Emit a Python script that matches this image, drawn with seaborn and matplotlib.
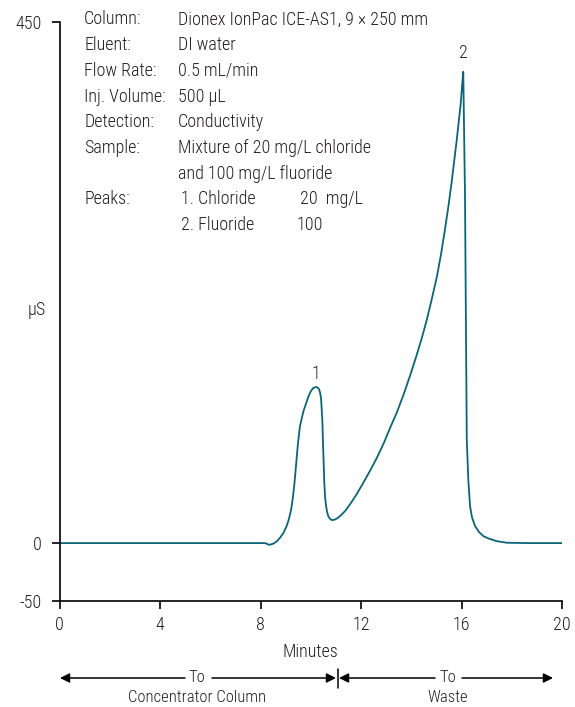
import matplotlib
matplotlib.use("Agg")
import matplotlib.pyplot as plt
from matplotlib import font_manager as fm
import seaborn as sns
import pandas as pd

# ---- data ----
time_min = [0.0, 2.0, 4.0, 6.0, 8.0, 8.18, 8.35, 8.51, 8.65, 8.78, 8.92, 9.04, 9.12, 9.22,
            9.28, 9.34, 9.41, 9.48, 9.57, 9.71, 9.91, 10.00, 10.10, 10.21, 10.27, 10.33,
            10.37, 10.41, 10.46, 10.48, 10.50, 10.54, 10.57, 10.61, 10.65, 10.70, 10.77,
            10.84, 10.97, 11.08, 11.20, 11.38, 11.56, 11.82, 12.09, 12.36, 12.63, 12.90,
            13.16, 13.43, 13.69, 13.96, 14.22, 14.42, 14.62, 14.82, 15.02, 15.19, 15.35,
            15.48, 15.61, 15.71, 15.81, 15.89, 15.97, 16.02, 16.07, 16.14, 16.21, 16.27,
            16.34, 16.42, 16.54, 16.70, 16.87, 17.10, 17.40, 17.80, 18.70, 20.0]
signal_uS = [0.0, 0.0, 0.0, 0.0, 0.0, 0.0, -1.5, -0.5, 1.5, 4.7, 9.0, 14.7, 20.0, 29.0,
             38.0, 49.0, 66.0, 83.6, 101.0, 114.0, 126.7, 131.0, 134.0, 134.8, 134.3, 133.0,
             130.0, 125.0, 106.6, 92.0, 78.0, 52.0, 40.0, 32.0, 27.0, 23.0, 21.0,
             19.8, 20.4, 21.8, 24.0, 28.0, 33.4, 42.0, 52.0, 62.5, 73.6, 86.0,
             99.5, 113.0, 128.0, 145.0, 162.7, 177.0, 193.0, 211.0, 230.0, 250.0, 272.0,
             291.0, 312.0, 330.0, 348.0, 364.0, 379.7, 394.0, 407.0, 299.0, 89.4, 55.0,
             31.9, 22.0, 14.7, 9.5, 6.0, 3.8, 1.7, 0.3, 0.0, 0.0]
peak_labels = ["1", "2"]
peak_times = [10.21, 16.07]
peak_values = [134.8, 407.0]
x_ticks = [0, 4, 8, 12, 16, 20]
y_ticks = [-50, 0, 450]

info_labels = ["Column:", "Eluent:", "Flow Rate:", "Inj. Volume:", "Detection:", "Sample:", "", "Peaks:", ""]
info_values = ["Dionex IonPac ICE-AS1, 9 \u00d7 250 mm", "DI water", "0.5 mL/min", "500 \u00b5L",
               "Conductivity", "Mixture of 20 mg/L chloride", "and 100 mg/L fluoride", "", ""]
peak_names = ["1. Chloride", "2. Fluoride"]
peak_conc = ["20  mg/L", "100"]

sns.set_theme(style="ticks")
avail = {f.name for f in fm.fontManager.ttflist}
family = "DejaVu Sans"
for cand in ["Liberation Sans Narrow", "Roboto Condensed", "Liberation Sans", "Roboto"]:
    if cand in avail:
        family = cand
        break
plt.rcParams["font.family"] = [family, "DejaVu Sans"]
plt.rcParams["font.weight"] = "light"
plt.rcParams["axes.labelweight"] = "light"

TXT = "#231f20"
LINE = "#0b6579"
W, H = 575, 707

fig = plt.figure(figsize=(W / 100, H / 100), dpi=100)
x0, x1, y0, y1 = 59.5, 562, 22, 601
ax = fig.add_axes([x0 / W, 1 - y1 / H, (x1 - x0) / W, (y1 - y0) / H])

df = pd.DataFrame({"Minutes": time_min, "uS": signal_uS})
sns.lineplot(data=df, x="Minutes", y="uS", ax=ax, color=LINE, lw=1.3, sort=False)

ax.set_xlim(0, 20)
ax.set_ylim(-50, 450)
ax.set_xticks(x_ticks)
ax.set_yticks(y_ticks)
ax.set_xticklabels([str(v) for v in x_ticks])
ax.set_yticklabels([str(v) for v in y_ticks])
for s in ["top", "right"]:
    ax.spines[s].set_visible(False)
for s in ["left", "bottom"]:
    ax.spines[s].set_linewidth(1.2)
    ax.spines[s].set_color("black")
ax.tick_params(axis="both", direction="out", length=6, width=1.2, color="black",
               labelsize=13, labelcolor=TXT)
ax.tick_params(axis="y", pad=7)
ax.tick_params(axis="x", pad=5)

ax.set_xlabel("Minutes", fontsize=13, color=TXT, fontweight="light")
ax.xaxis.set_label_coords((310 - x0) / (x1 - x0), (y1 - 652) / (y1 - y0))
ax.xaxis.label.set_va("center")
ax.set_ylabel("\u00b5S", fontsize=13, color=TXT, rotation=0, fontweight="light")
ax.yaxis.set_label_coords((37 - x0) / (x1 - x0), (y1 - 310) / (y1 - y0))
ax.yaxis.label.set_va("center")
ax.yaxis.label.set_ha("center")

offsets = [3, 7]
for lab, t, v, off in zip(peak_labels, peak_times, peak_values, offsets):
    ax.annotate(lab, xy=(t, v), xytext=(0, off), textcoords="offset points",
                ha="center", va="bottom", fontsize=13, color=TXT)

# overlay in pixel coordinates for text block and arrows
ov = fig.add_axes([0, 0, 1, 1], facecolor="none")
ov.set_xlim(0, W)
ov.set_ylim(H, 0)
ov.axis("off")

row0, dy = 19.5, 25.7
for i, (lab, val) in enumerate(zip(info_labels, info_values)):
    y = row0 + i * dy
    if lab:
        ov.text(84, y, lab, va="center", ha="left", fontsize=13, color=TXT)
    if val:
        ov.text(178, y, val, va="center", ha="left", fontsize=13, color=TXT)
for j, (nm, cc) in enumerate(zip(peak_names, peak_conc)):
    y = row0 + (7 + j) * dy
    ov.text(181, y, nm, va="center", ha="left", fontsize=13, color=TXT)
    ov.text(300 if j == 0 else 296, y, cc, va="center", ha="left", fontsize=13, color=TXT)

ay = 678
ap = dict(arrowstyle="-|>", mutation_scale=14, color="black", lw=1.1,
          shrinkA=0, shrinkB=0)
ov.annotate("", xy=(60, ay), xytext=(185, ay), arrowprops=ap)
ov.annotate("", xy=(336, ay), xytext=(212, ay), arrowprops=ap)
ov.annotate("", xy=(339, ay), xytext=(435, ay), arrowprops=ap)
ov.annotate("", xy=(553, ay), xytext=(462, ay), arrowprops=ap)
ov.plot([337.5, 337.5], [669, 688], color="black", lw=1.1)
ov.text(197, ay, "To", ha="center", va="center", fontsize=12, color=TXT)
ov.text(197, 697, "Concentrator Column", ha="center", va="center", fontsize=12, color=TXT)
ov.text(448, ay, "To", ha="center", va="center", fontsize=12, color=TXT)
ov.text(448, 697, "Waste", ha="center", va="center", fontsize=12, color=TXT)

fig.savefig("out.png", dpi=100)
